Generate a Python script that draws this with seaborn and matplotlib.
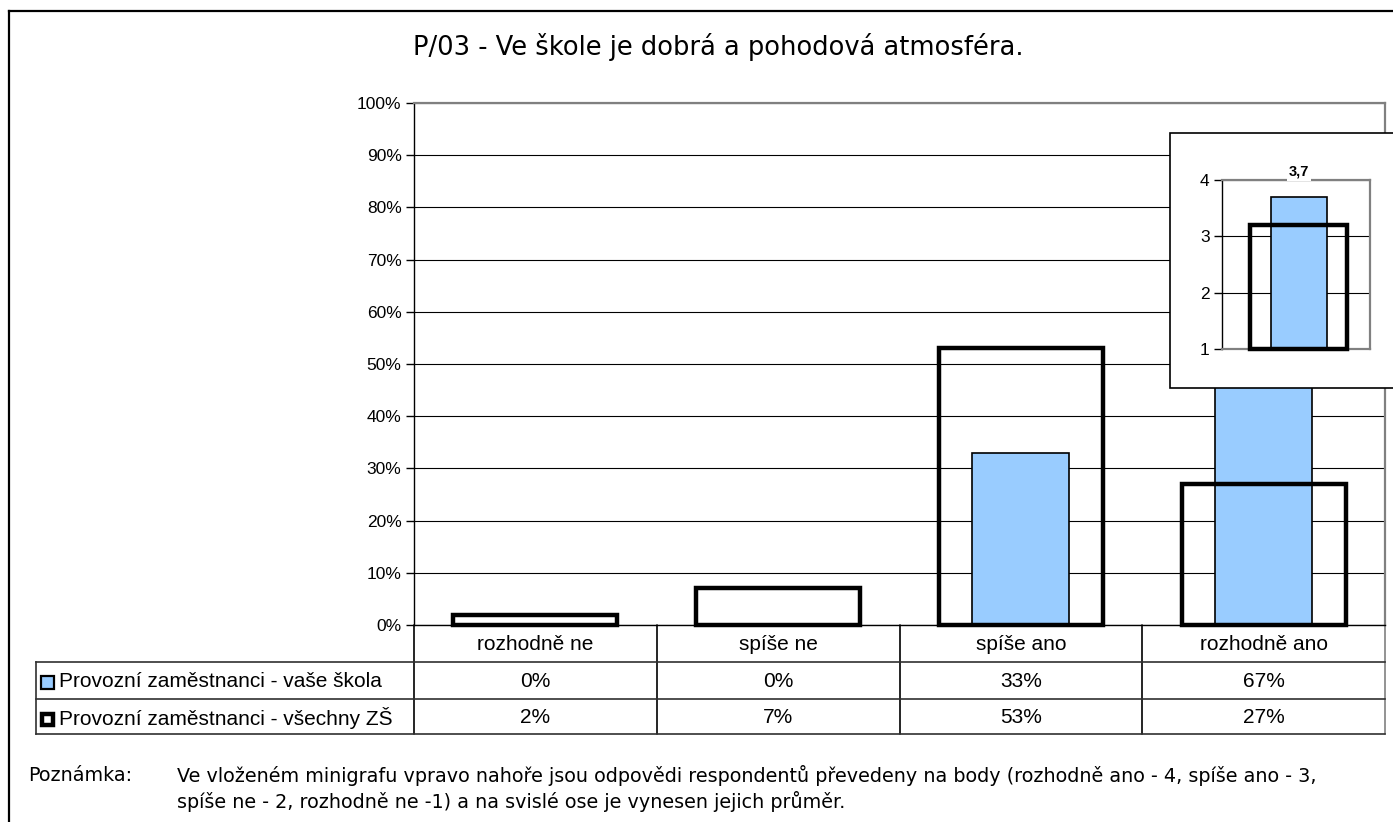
import matplotlib
matplotlib.use("Agg")
import matplotlib.pyplot as plt
import seaborn as sns
import pandas as pd
from matplotlib.lines import Line2D
from matplotlib.patches import Rectangle

# ---------------- data ----------------
categories = ["rozhodně ne", "spíše ne", "spíše ano", "rozhodně ano"]
school_vals = [0.00, 0.00, 0.33, 0.67]
all_vals = [0.02, 0.07, 0.53, 0.27]
school_labels = ["0%", "0%", "33%", "67%"]
all_labels = ["2%", "7%", "53%", "27%"]
series_names = ["Provozní zaměstnanci - vaše škola", "Provozní zaměstnanci - všechny ZŠ"]
inset_group = ["průměr"]
inset_school = [3.7]
inset_all = [3.2]
inset_label = "3,7"
yticks = [0, 0.1, 0.2, 0.3, 0.4, 0.5, 0.6, 0.7, 0.8, 0.9, 1.0]
ytick_labels = ["0%", "10%", "20%", "30%", "40%", "50%", "60%", "70%", "80%", "90%", "100%"]
inset_ticks = [1, 2, 3, 4]
title = "P/03 - Ve škole je dobrá a pohodová atmosféra."
note_head = "Poznámka:"
note_lines = [
    "Ve vloženém minigrafu vpravo nahoře jsou odpovědi respondentů převedeny na body (rozhodně ano - 4, spíše ano - 3,",
    "spíše ne - 2, rozhodně ne -1) a na svislé ose je vynesen jejich průměr.",
]

BLUE = "#99CCFF"
GRAY = "#808080"
TAB_FS = 15

sns.set_theme(style="white")
plt.rcParams["font.family"] = ["Liberation Sans", "DejaVu Sans"]
plt.rcParams["text.color"] = "black"
plt.rcParams["axes.labelcolor"] = "black"
plt.rcParams["xtick.color"] = "black"
plt.rcParams["ytick.color"] = "black"

W, H = 1393, 822
fig = plt.figure(figsize=(W / 100, H / 100), dpi=100)
fig.patch.set_facecolor("white")


def fx(x):
    return x / W


def fy(y):
    return 1 - y / H


def fline(x0, y0, x1, y1, color="black", lw=1.0, z=1):
    fig.add_artist(Line2D([fx(x0), fx(x1)], [fy(y0), fy(y1)], color=color, lw=lw,
                          transform=fig.transFigure, zorder=z, solid_capstyle="projecting"))


# outer frame
fline(9, 11, 1400, 11, color="black", lw=1.6)
fline(9, 11, 9, 830, color="black", lw=1.6)

# ---------------- main axes ----------------
AX_L, AX_R, AX_T, AX_B = 414, 1385, 103, 625
ax = fig.add_axes([fx(AX_L), fy(AX_B), (AX_R - AX_L) / W, (AX_B - AX_T) / H])
df = pd.DataFrame({"cat": categories, "school": school_vals, "all": all_vals})
sns.barplot(data=df, x="cat", y="school", color=BLUE, saturation=1, width=0.40,
            edgecolor="black", linewidth=1.2, ax=ax)
sns.barplot(data=df, x="cat", y="all", color="black", fill=False, width=0.675,
            linewidth=3.2, ax=ax)
for p in ax.patches:
    p.set_clip_on(False)
    p.set_zorder(3)

ax.set_xlim(-0.5, len(categories) - 0.5)
ax.set_ylim(0, 1)
ax.set_yticks(yticks)
ax.set_yticklabels(ytick_labels, fontsize=12.5)
ax.yaxis.grid(True, color="black", lw=0.8)
ax.set_axisbelow(True)
ax.tick_params(axis="y", length=6, width=1, direction="out", left=True, color="black", pad=3)
ax.set_xticks(range(len(categories)))
ax.set_xticklabels(categories, fontsize=TAB_FS)
ax.tick_params(axis="x", length=0, pad=7)
ax.set_xlabel("")
ax.set_ylabel("")
for s in ["top", "right"]:
    ax.spines[s].set_color(GRAY)
    ax.spines[s].set_linewidth(1.6)
for s in ["left", "bottom"]:
    ax.spines[s].set_color("black")
    ax.spines[s].set_linewidth(1.0)

# ---------------- data table ----------------
ROW1_T, ROW2_T, TAB_B = 662, 699, 734
ax_h = AX_B - AX_T
tr = ax.get_xaxis_transform()


def ay(ypx):
    return (AX_B - ypx) / ax_h


for k in range(len(categories) + 1):
    xb = k - 0.5
    col = GRAY if k == len(categories) else "black"
    ax.add_line(Line2D([xb, xb], [0, ay(TAB_B)], transform=tr, color=col, lw=1.2, clip_on=False))

TAB_L = 36
for yy in (ROW1_T, ROW2_T, TAB_B):
    fline(TAB_L, yy, AX_R, yy, color="#303030", lw=1.2)
fline(TAB_L, ROW1_T, TAB_L, TAB_B, color="#303030", lw=1.2)

row_centers = [(ROW1_T + ROW2_T) / 2 + 1, (ROW2_T + TAB_B) / 2 + 1]
for i in range(len(categories)):
    ax.text(i, ay(row_centers[0]), school_labels[i], transform=tr, ha="center", va="center", fontsize=TAB_FS)
    ax.text(i, ay(row_centers[1]), all_labels[i], transform=tr, ha="center", va="center", fontsize=TAB_FS)

# legend keys
fig.add_artist(Rectangle((fx(41), fy(689)), 13 / W, 13 / H, facecolor=BLUE, edgecolor="black",
                         lw=1.6, transform=fig.transFigure))
fig.add_artist(Rectangle((fx(42), fy(725)), 11 / W, 11 / H, facecolor="white", edgecolor="black",
                         lw=3.2, transform=fig.transFigure))
for name, yc in zip(series_names, row_centers):
    fig.text(fx(59), fy(yc), name, ha="left", va="center", fontsize=TAB_FS)

# ---------------- title ----------------
fig.text(fx(718), fy(47), title, ha="center", va="center", fontsize=18.5,
         family=["DejaVu Sans"])

# ---------------- note ----------------
note_font = ["DejaVu Sans"]
NOTE_FS = 13.8
fig.text(fx(28), fy(775), note_head, ha="left", va="center", fontsize=NOTE_FS, family=note_font)
fig.text(fx(177), fy(775), note_lines[0], ha="left", va="center", fontsize=NOTE_FS, family=note_font)
fig.text(fx(177), fy(801), note_lines[1], ha="left", va="center", fontsize=NOTE_FS, family=note_font)

# ---------------- inset ----------------
fig.add_artist(Rectangle((fx(1170), fy(388)), 300 / W, (388 - 133) / H, facecolor="white",
                         edgecolor="black", lw=1.2, transform=fig.transFigure, zorder=2))
IN_L, IN_R, IN_T, IN_B = 1222, 1370, 180, 349
ax2 = fig.add_axes([fx(IN_L), fy(IN_B), (IN_R - IN_L) / W, (IN_B - IN_T) / H], zorder=3)
ax2.patch.set_alpha(0)
dfi = pd.DataFrame({"g": inset_group, "school": inset_school, "all": inset_all})
sns.barplot(data=dfi, x="g", y="school", color=BLUE, saturation=1, width=0.38,
            edgecolor="black", linewidth=1.2, ax=ax2)
sns.barplot(data=dfi, x="g", y="all", color="black", fill=False, width=0.655,
            linewidth=3.2, ax=ax2)
base = inset_ticks[0]
for p in ax2.patches:
    h = p.get_height()
    p.set_y(base)
    p.set_height(h - base)
    p.set_clip_on(False)
    p.set_zorder(3)
ax2.set_xlim(-0.52, 0.48)
ax2.set_ylim(inset_ticks[0], inset_ticks[-1])
ax2.set_yticks(inset_ticks)
ax2.set_yticklabels([str(t) for t in inset_ticks], fontsize=12.5)
ax2.yaxis.grid(True, color="black", lw=0.8)
ax2.set_axisbelow(True)
ax2.tick_params(axis="y", length=6, width=1, direction="out", left=True, color="black", pad=3)
ax2.set_xticks([])
ax2.set_xlabel("")
ax2.set_ylabel("")
for s in ["top", "right", "bottom"]:
    ax2.spines[s].set_color(GRAY)
    ax2.spines[s].set_linewidth(1.6)
ax2.spines["left"].set_color("black")
ax2.spines["left"].set_linewidth(1.0)
ax2.text(0, 1 + 8 / (IN_B - IN_T), inset_label, transform=ax2.get_xaxis_transform(),
         ha="center", va="center", fontsize=10.5, fontweight="bold", zorder=5,
         bbox=dict(facecolor="white", edgecolor="none", pad=1.5))

fig.savefig("out.png", dpi=100, facecolor="white")
